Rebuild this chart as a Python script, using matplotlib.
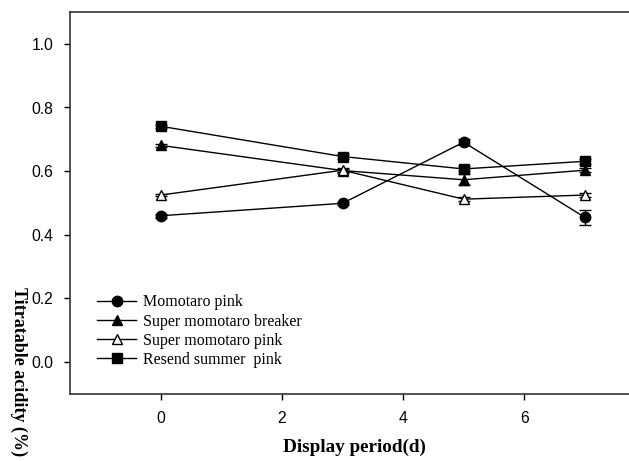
import matplotlib
matplotlib.use("Agg")
import matplotlib.pyplot as plt

days = [0, 3, 5, 7]
series_names = ["Momotaro pink", "Super momotaro breaker",
                "Super momotaro pink", "Resend summer  pink"]
momotaro_pink = [0.460, 0.499, 0.691, 0.455]
super_breaker = [0.681, 0.602, 0.573, 0.603]
super_pink = [0.525, 0.603, 0.512, 0.525]
resend_pink = [0.741, 0.646, 0.607, 0.631]
momotaro_pink_err = [0.006, 0.005, 0.009, 0.023]
super_breaker_err = [0.005, 0.006, 0.018, 0.007]
super_pink_err = [0.004, 0.008, 0.006, 0.005]
resend_pink_err = [0.005, 0.009, 0.008, 0.007]

y_ticks = [0.0, 0.2, 0.4, 0.6, 0.8, 1.0]
x_ticks = [0, 2, 4, 6]

W, H = 629, 461
fig = plt.figure(figsize=(W / 100, H / 100), dpi=100)
ax = fig.add_axes([70 / W, (H - 394) / H, (W - 70) / W, (394 - 12) / H])

styles = [
    dict(marker="o", mfc="black", ms=7.5),
    dict(marker="^", mfc="black", ms=7.5),
    dict(marker="^", mfc="white", ms=7.5),
    dict(marker="s", mfc="black", ms=7),
]
data = [(momotaro_pink, momotaro_pink_err), (super_breaker, super_breaker_err),
        (super_pink, super_pink_err), (resend_pink, resend_pink_err)]

handles = []
for (vals, errs), st, name in zip(data, styles, series_names):
    eb = ax.errorbar(days, vals, yerr=errs, color="black", lw=1.0,
                     mec="black", capsize=4, capthick=1.0, elinewidth=1.0,
                     label=name, **st)
    handles.append(eb.lines[0])

ax.set_xlim(-1.5, 7.73)
ax.set_ylim(-0.1, 1.1)
ax.set_xticks(x_ticks)
ax.set_yticks(y_ticks)
ax.set_yticklabels([f"{v:.1f}" for v in y_ticks])
for lab in ax.get_xticklabels() + ax.get_yticklabels():
    lab.set_fontfamily("Liberation Sans")
    lab.set_fontsize(11.3)
ax.tick_params(direction="out", length=4, width=1, pad=8, colors="black")
ax.spines["right"].set_visible(False)
for s in ["left", "bottom", "top"]:
    ax.spines[s].set_linewidth(1.2)
    ax.spines[s].set_color("#333333")

serif = "Liberation Serif"
fig.text(354 / W, 1 - 447 / H, "Display period(d)", ha="center", va="center",
         fontfamily=serif, fontweight="bold", fontsize=13.8)
fig.text(19 / W, 1 - 372 / H, "Titratable acidity (%)", ha="center",
         va="center", rotation=270, fontfamily=serif, fontweight="bold",
         fontsize=13)

leg = ax.legend(handles, series_names, loc="upper left",
                bbox_to_anchor=(21 / (W - 70), (394 - 288) / (394 - 12)),
                frameon=False, handlelength=2.4, handletextpad=0.45,
                labelspacing=0.2, borderaxespad=0,
                prop=dict(family=serif, size=11.5))

fig.savefig("out.png", dpi=100)
